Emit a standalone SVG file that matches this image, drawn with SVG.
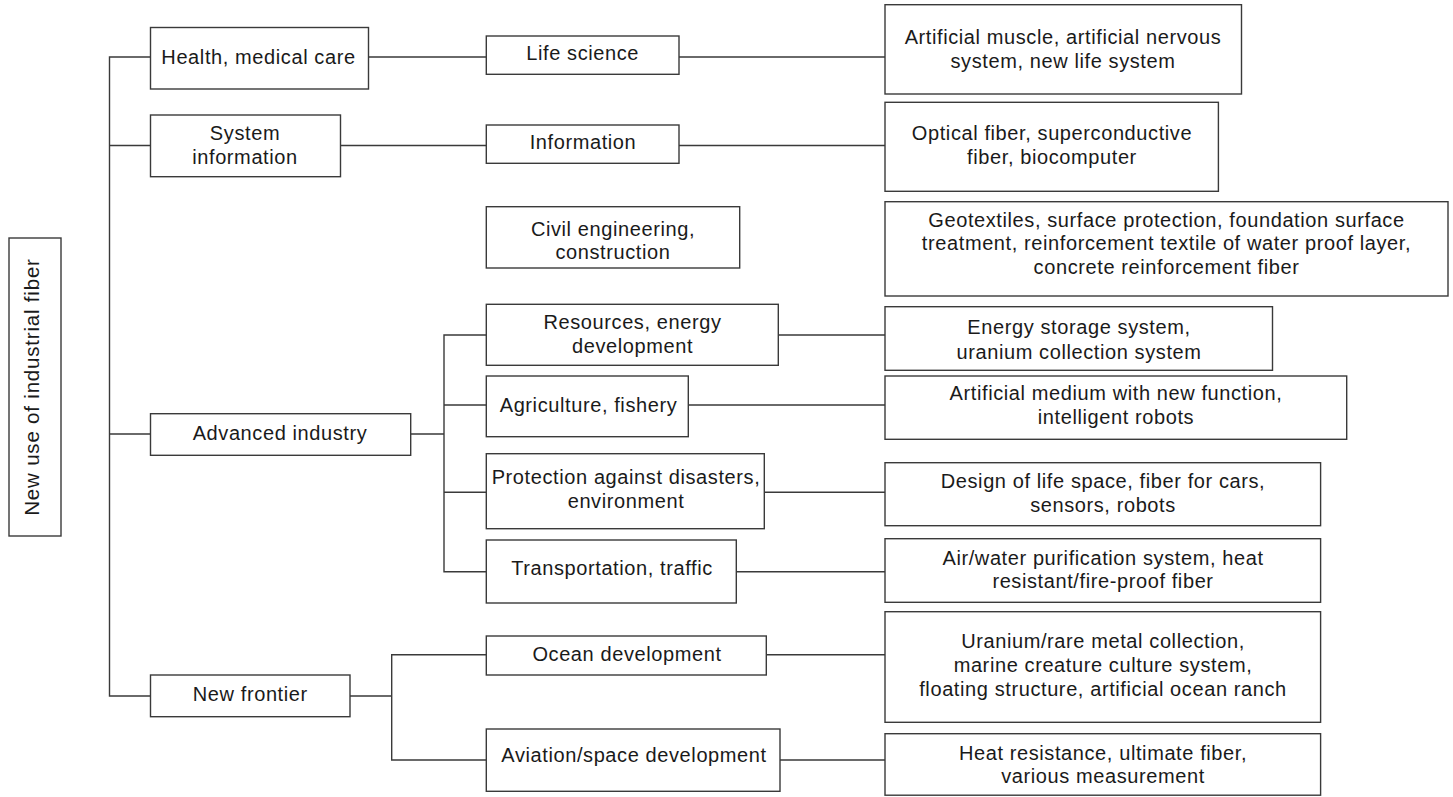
<svg xmlns="http://www.w3.org/2000/svg" width="1453" height="797" viewBox="0 0 1453 797">
<style>
rect{fill:#fff;stroke:#3a3a3a;stroke-width:1.4}
.c path{fill:none;stroke:#3a3a3a;stroke-width:1.4}
text{font-family:"Liberation Sans",Arial,sans-serif;font-size:20px;letter-spacing:0.6px;fill:#1a1a1a;text-anchor:middle}
</style>
<rect x="0" y="0" width="1453" height="797" style="stroke:none"/>
<g class="c" id="connectors">
<path d="M150.5,57 H109.5 V696 H150.5 M109.5,145.5 H150.5 M109.5,434 H150.5"/>
<path d="M368.5,57 H486.3 M679,57 H885"/>
<path d="M340.5,145.5 H486.3 M679,145.5 H885"/>
<path d="M410.7,434 H444 M486.3,335 H444 V571.7 H486.3 M444,405 H486.3 M444,492.3 H486.3"/>
<path d="M778.3,335 H885 M688.3,405 H885 M764.3,492.3 H885 M736.3,571.7 H885"/>
<path d="M350,696 H391.7 M486.3,654.7 H391.7 V760 H486.3"/>
<path d="M766.3,654.7 H885 M780,760 H885"/>
</g>
<g id="root"><rect x="9" y="238" width="52" height="298"/><text transform="translate(39,387) rotate(-90)" style="font-size:20.5px;letter-spacing:0.8px">New use of industrial fiber</text></g>
<g id="health"><rect x="150.5" y="27.5" width="218" height="61.5"/><text x="258.5" y="64">Health, medical care</text></g>
<g id="sysinfo"><rect x="150.5" y="115" width="190" height="61.7"/><text x="245" y="140">System</text><text x="245" y="164">information</text></g>
<g id="advanced"><rect x="150.5" y="413.7" width="260.2" height="41.6"/><text x="280" y="440">Advanced industry</text></g>
<g id="frontier"><rect x="150.5" y="675" width="199.5" height="41.7"/><text x="250.3" y="701">New frontier</text></g>
<g id="lifescience"><rect x="486.3" y="36" width="192.7" height="38.3"/><text x="582.7" y="60.3">Life science</text></g>
<g id="information"><rect x="486.3" y="125" width="192.7" height="38.3"/><text x="583" y="149">Information</text></g>
<g id="civil"><rect x="486.3" y="206.7" width="253.4" height="61.3"/><text x="613" y="236">Civil engineering,</text><text x="613" y="259.3">construction</text></g>
<g id="resources"><rect x="486.3" y="304.3" width="292" height="61"/><text x="632.5" y="329.3">Resources, energy</text><text x="632.5" y="352.7">development</text></g>
<g id="agriculture"><rect x="486.3" y="376" width="202" height="60.7"/><text x="588.5" y="412">Agriculture, fishery</text></g>
<g id="protection"><rect x="486.3" y="453.7" width="278" height="75"/><text x="626" y="484">Protection against disasters,</text><text x="626" y="507.7">environment</text></g>
<g id="transport"><rect x="486.3" y="540" width="250" height="63"/><text x="612" y="575">Transportation, traffic</text></g>
<g id="ocean"><rect x="486.3" y="636" width="280" height="39"/><text x="627" y="661">Ocean development</text></g>
<g id="aviation"><rect x="486.3" y="729" width="293.7" height="62.3"/><text x="634" y="761.7">Aviation/space development</text></g>
<g id="artmuscle"><rect x="885" y="4.7" width="356.5" height="89.3"/><text x="1063" y="44.3">Artificial muscle, artificial nervous</text><text x="1063" y="68.3">system, new life system</text></g>
<g id="optical"><rect x="885" y="102.3" width="333.4" height="89"/><text x="1052" y="140">Optical fiber, superconductive</text><text x="1052" y="164">fiber, biocomputer</text></g>
<g id="geotextiles"><rect x="885" y="201.7" width="563" height="94.3"/><text x="1166.5" y="226.7">Geotextiles, surface protection, foundation surface</text><text x="1166.5" y="250">treatment, reinforcement textile of water proof layer,</text><text x="1166.5" y="274">concrete reinforcement fiber</text></g>
<g id="energy"><rect x="885" y="306.7" width="387.5" height="63.6"/><text x="1079" y="334.3">Energy storage system,</text><text x="1079" y="358.7">uranium collection system</text></g>
<g id="medium"><rect x="885" y="376" width="461.7" height="63.3"/><text x="1116" y="400">Artificial medium with new function,</text><text x="1116" y="424">intelligent robots</text></g>
<g id="design"><rect x="885" y="462.7" width="435.6" height="63"/><text x="1103" y="487.7">Design of life space, fiber for cars,</text><text x="1103" y="511.7">sensors, robots</text></g>
<g id="airwater"><rect x="885" y="538.7" width="435.6" height="63.6"/><text x="1103" y="565">Air/water purification system, heat</text><text x="1103" y="588.3">resistant/fire-proof fiber</text></g>
<g id="uranium"><rect x="885" y="611.7" width="435.6" height="110.6"/><text x="1103" y="647.7">Uranium/rare metal collection,</text><text x="1103" y="671.7">marine creature culture system,</text><text x="1103" y="695.7">floating structure, artificial ocean ranch</text></g>
<g id="heat"><rect x="885" y="733.7" width="435.6" height="61.5"/><text x="1103" y="760">Heat resistance, ultimate fiber,</text><text x="1103" y="783.3">various measurement</text></g>
</svg>
